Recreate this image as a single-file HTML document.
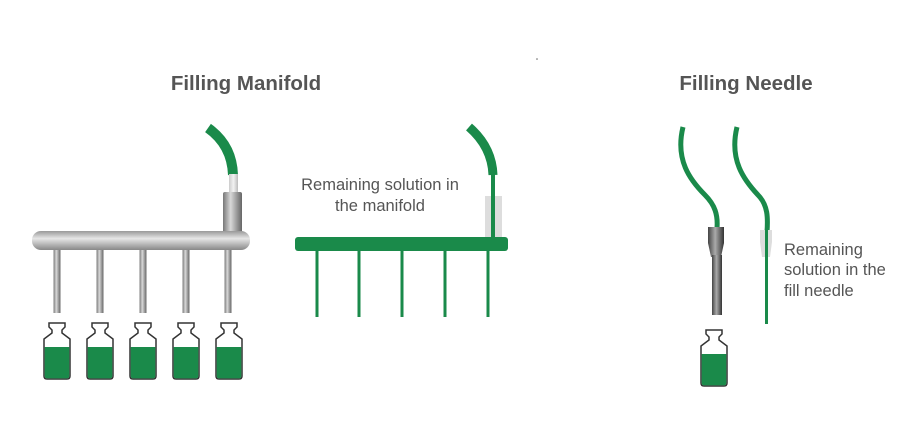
<!DOCTYPE html>
<html><head><meta charset="utf-8"><style>
html,body{margin:0;padding:0;background:#fff;}
svg{display:block;}
text{font-family:"Liberation Sans",Arial,sans-serif;fill:#555;}
</style></head><body>
<svg width="904" height="430" viewBox="0 0 904 430" xmlns="http://www.w3.org/2000/svg">
<defs>
<linearGradient id="gv" x1="0" y1="0" x2="1" y2="0">
<stop offset="0" stop-color="#777"/><stop offset="0.4" stop-color="#d8d8d8"/><stop offset="1" stop-color="#666"/></linearGradient>
<linearGradient id="gh" x1="0" y1="0" x2="0" y2="1">
<stop offset="0" stop-color="#999"/><stop offset="0.4" stop-color="#e6e6e6"/><stop offset="1" stop-color="#888"/></linearGradient>
<linearGradient id="gd" x1="0" y1="0" x2="1" y2="0">
<stop offset="0" stop-color="#444"/><stop offset="0.45" stop-color="#aaa"/><stop offset="1" stop-color="#333"/></linearGradient>
<linearGradient id="gl" x1="0" y1="0" x2="1" y2="0">
<stop offset="0" stop-color="#ccc"/><stop offset="0.5" stop-color="#f2f2f2"/><stop offset="1" stop-color="#bbb"/></linearGradient>
<g id="vial">
<path d="M-8,0 h16 v4 l-3,3 v3 l8,6 v37 q0,3 -3,3 h-20 q-3,0 -3,-3 v-37 l8,-6 v-3 l-3,-3 z" fill="#fff" stroke="#333" stroke-width="1.5"/>
<path d="M-12.3,24 h24.6 v29 q0,2.4 -2.4,2.4 h-19.8 q-2.4,0 -2.4,-2.4 z" fill="#1a8a4a"/>
</g>
</defs>
<text x="246" y="90" font-size="20.5" font-weight="bold" text-anchor="middle">Filling Manifold</text>
<text x="746" y="90" font-size="20.5" font-weight="bold" text-anchor="middle">Filling Needle</text>
<circle cx="537" cy="59" r="0.8" fill="#666"/>

<!-- Manifold left -->
<path d="M208,128 Q232,145 233,175" stroke="#1a8a4a" stroke-width="10" fill="none"/>
<rect x="229" y="174" width="9" height="20" fill="url(#gl)"/>
<rect x="223" y="192" width="19" height="42" rx="2" fill="url(#gv)"/>
<rect x="32" y="231" width="218" height="19" rx="9" fill="url(#gh)"/>
<g fill="url(#gv)">
<rect x="53.5" y="250" width="7" height="63"/>
<rect x="96.5" y="250" width="7" height="63"/>
<rect x="139.5" y="250" width="7" height="63"/>
<rect x="182.5" y="250" width="7" height="63"/>
<rect x="224.5" y="250" width="7" height="63"/>
</g>
<use href="#vial" x="57" y="323"/>
<use href="#vial" x="100" y="323"/>
<use href="#vial" x="143" y="323"/>
<use href="#vial" x="186" y="323"/>
<use href="#vial" x="229" y="323"/>

<!-- Manifold middle -->
<text x="380" y="190" font-size="16.5" text-anchor="middle">Remaining solution in</text>
<text x="380" y="211" font-size="16.5" text-anchor="middle">the manifold</text>
<rect x="485" y="196" width="17" height="42" fill="#ddd"/>
<path d="M469,127 Q492,147 493,175" stroke="#1a8a4a" stroke-width="9" fill="none"/>
<rect x="491" y="174" width="4" height="66" fill="#1a8a4a"/>
<rect x="295" y="237" width="213" height="14" rx="3" fill="#1a8a4a"/>
<g fill="#1a8a4a">
<rect x="315.5" y="250" width="3" height="67"/>
<rect x="357.5" y="250" width="3" height="67"/>
<rect x="400.5" y="250" width="3" height="67"/>
<rect x="443.5" y="250" width="3" height="67"/>
<rect x="486.5" y="250" width="3" height="67"/>
</g>

<!-- Needle 1 -->
<path d="M683,127 C675,160 690,180 705,195 C715,205 718,215 717,228" stroke="#1a8a4a" stroke-width="5" fill="none"/>
<path d="M708,227 h16 v16 l-3,14 h-10 l-3,-14 z" fill="url(#gd)"/>
<rect x="712" y="255" width="10" height="60" fill="url(#gd)"/>
<use href="#vial" x="714" y="330"/>

<!-- Needle 2 -->
<path d="M737,127 C729,160 744,180 758,195 C768,205 768,218 767,232" stroke="#1a8a4a" stroke-width="5" fill="none"/>
<path d="M760,230 h12 v12 l-2,15 h-8 l-2,-15 z" fill="#ddd"/>
<rect x="765" y="230" width="3" height="94" fill="#1a8a4a"/>
<text x="784" y="255" font-size="16.5">Remaining</text>
<text x="784" y="275" font-size="16.5">solution in the</text>
<text x="784" y="296" font-size="16.5">fill needle</text>
</svg>
</body></html>
